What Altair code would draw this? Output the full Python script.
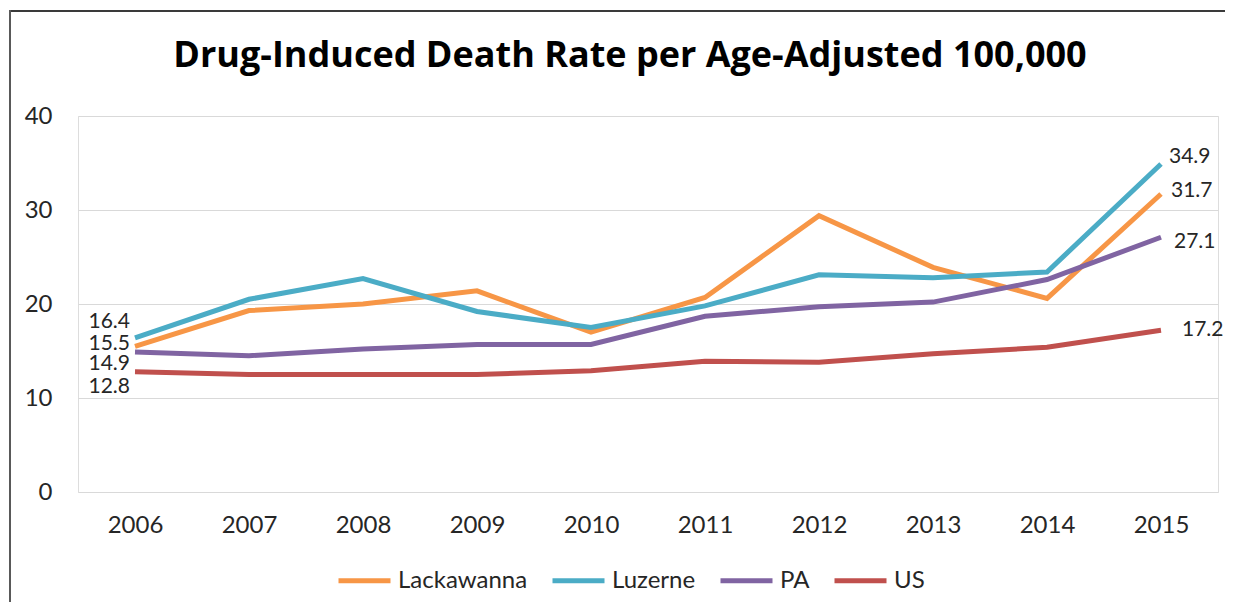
import altair as alt
import pandas as pd

years = [2006, 2007, 2008, 2009, 2010, 2011, 2012, 2013, 2014, 2015]
lackawanna = [15.5, 19.3, 20.0, 21.4, 17.0, 20.7, 29.4, 23.9, 20.6, 31.7]
luzerne = [16.4, 20.5, 22.7, 19.2, 17.5, 19.8, 23.1, 22.8, 23.4, 34.9]
pa = [14.9, 14.5, 15.2, 15.7, 15.7, 18.7, 19.7, 20.2, 22.6, 27.1]
us = [12.8, 12.5, 12.5, 12.5, 12.9, 13.9, 13.8, 14.7, 15.4, 17.2]

series_names = ["Lackawanna", "Luzerne", "PA", "US"]
series_values = [lackawanna, luzerne, pa, us]
colors = ["#F79646", "#4BACC6", "#8064A2", "#C0504D"]
title_text = "Drug-Induced Death Rate per Age-Adjusted 100,000"

rows = []
for name, vals in zip(series_names, series_values):
    for y, v in zip(years, vals):
        rows.append({"Year": str(y), "Series": name, "Rate": v})
df = pd.DataFrame(rows)

FONT = "Lato"
TXT = "#262626"

x_enc = alt.X("Year:O", scale=alt.Scale(padding=0.5),
              axis=alt.Axis(title=None, labelAngle=0, domain=False, ticks=False,
                            labelPadding=21, labelFontSize=24, labelFont=FONT,
                            labelColor=TXT, grid=False))
y_enc = alt.Y("Rate:Q", scale=alt.Scale(domain=[0, 40]),
              axis=alt.Axis(title=None, values=[0, 10, 20, 30, 40], domain=False,
                            ticks=False, labelPadding=26, labelFontSize=24,
                            labelFont=FONT, labelColor=TXT, gridColor="#D9D9D9",
                            gridWidth=1.2))
color_enc = alt.Color("Series:N",
                      scale=alt.Scale(domain=series_names, range=colors),
                      legend=alt.Legend(title=None, orient="none", direction="horizontal",
                                        legendX=258, legendY=436,
                                        symbolType="stroke", symbolSize=2704,
                                        symbolStrokeWidth=5, labelFontSize=24,
                                        labelFont=FONT, labelColor=TXT,
                                        columnPadding=14, labelOffset=5))

lines = alt.Chart(df).mark_line(strokeWidth=5).encode(
    x=x_enc, y=y_enc, color=color_enc, order=alt.Order("Year:O")
)

left_dy = {"Lackawanna": -2, "Luzerne": -16, "PA": 12, "US": 15}
right_dy = {"Lackawanna": -3, "Luzerne": -7, "PA": 5, "US": 0}
right_dx = {"Lackawanna": 10, "Luzerne": 8, "PA": 13, "US": 21}

label_layers = []
for name in series_names:
    first = alt.Chart(df).transform_filter(
        (alt.datum.Series == name) & (alt.datum.Year == str(years[0]))
    ).mark_text(align="right", baseline="middle", dx=-5, dy=left_dy[name],
                fontSize=21, font=FONT, color=TXT).encode(
        x="Year:O", y="Rate:Q", text=alt.Text("Rate:Q", format=".1f"))
    last = alt.Chart(df).transform_filter(
        (alt.datum.Series == name) & (alt.datum.Year == str(years[-1]))
    ).mark_text(align="left", baseline="middle", dx=right_dx[name], dy=right_dy[name],
                fontSize=21, font=FONT, color=TXT).encode(
        x="Year:O", y="Rate:Q", text=alt.Text("Rate:Q", format=".1f"))
    label_layers += [first, last]

frame = alt.Data(values=[{"k": 1}])
top_line = alt.Chart(frame).mark_rule(stroke="#3A3A3A", strokeWidth=2).encode(
    x=alt.value(-69), x2=alt.value(1300), y=alt.value(-105))
left_line = alt.Chart(frame).mark_rule(stroke="#595959", strokeWidth=2).encode(
    x=alt.value(-68), y=alt.value(-106), y2=alt.value(600))

title = alt.Chart(alt.Data(values=[{"t": title_text}])).mark_text(
    align="center", baseline="alphabetic", font="Open Sans", fontSize=36,
    fontWeight="bold", color="#000000"
).encode(x=alt.value(552), y=alt.value(-49), text="t:N")

chart = alt.layer(top_line, left_line, title, lines, *label_layers).properties(
    width=1140, height=376,
    autosize=alt.AutoSizeParams(type="none"),
    padding={"left": 70, "top": 108, "right": 7, "bottom": 110},
).configure_view(stroke=None).configure(background="white")

chart.save("out.html", embed_options={"renderer": "svg", "actions": False})
